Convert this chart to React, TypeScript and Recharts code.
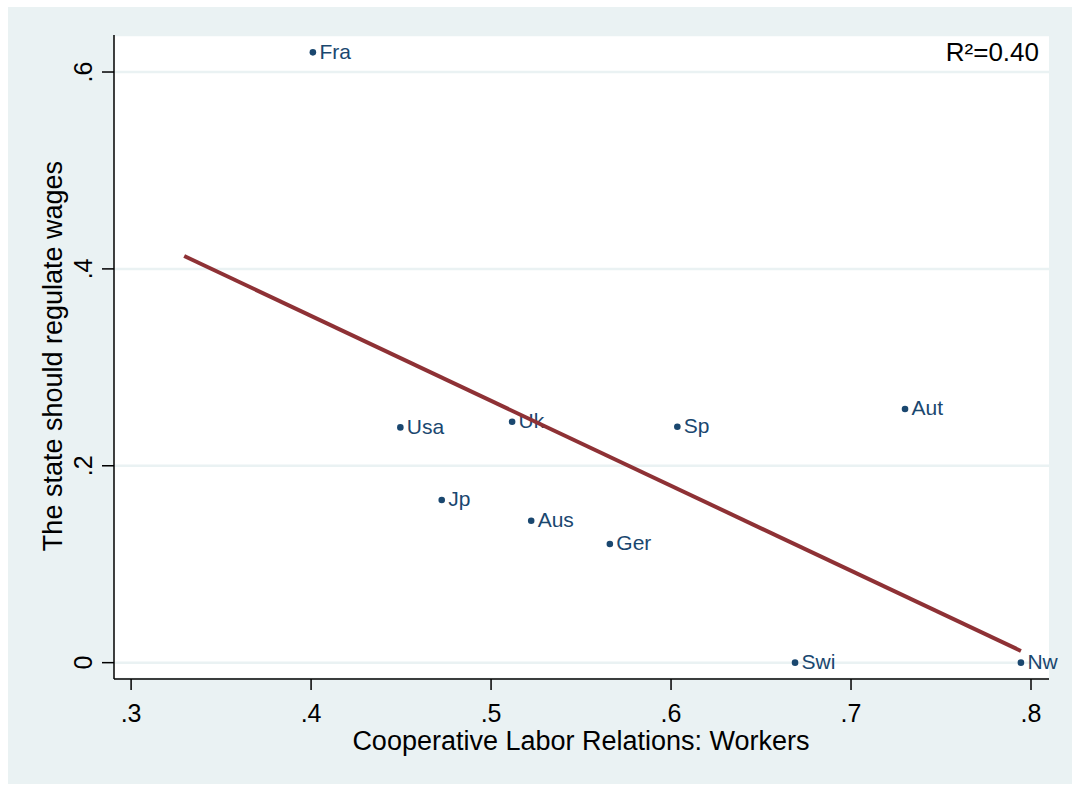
import {
  ScatterChart, Scatter, XAxis, YAxis, CartesianGrid,
} from 'recharts'

const COUNTRIES = ['Fra', 'Usa', 'Uk', 'Sp', 'Aut', 'Jp', 'Aus', 'Ger', 'Swi', 'Nw']
const LABOR = [0.401, 0.4496, 0.5117, 0.6035, 0.730, 0.4726, 0.5223, 0.566, 0.6689, 0.7944]
const WAGES = [0.620, 0.239, 0.2448, 0.2397, 0.2577, 0.1653, 0.1442, 0.1206, 0, 0]

// fitted line end points
const FIT_X = [0.3295, 0.7944]
const FIT_Y = [0.4131, 0.0119]

const X_TICKS = [0.3, 0.4, 0.5, 0.6, 0.7, 0.8]
const Y_TICKS = [0, 0.2, 0.4, 0.6]

const BG = '#eaf2f3'
const NAVY = '#1a476f'
const MAROON = '#8e3135'
const FONT = '"Liberation Sans", Arial, sans-serif'

const fmt = (v: number) => (v === 0 ? '0' : v.toFixed(1).replace(/^0/, ''))

const W = 1064
const H = 777

function PointShape(props: any) {
  const { cx, cy, payload } = props
  return (
    <g>
      <circle cx={cx} cy={cy} r={3.3} fill={NAVY} />
      <text x={cx + 6.5} y={cy + 6.5} fill={NAVY} fontSize={21} fontFamily={FONT}>
        {payload.name}
      </text>
    </g>
  )
}

function YTick(props: any) {
  const { x, y, payload } = props
  const tx = x - 10
  return (
    <text x={tx} y={y} transform={`rotate(-90, ${tx}, ${y})`} textAnchor="middle"
      fontSize={25} fontFamily={FONT} fill="#000">
      {fmt(payload.value)}
    </text>
  )
}

export default function App() {
  const points = COUNTRIES.map((name, i) => ({ name, x: LABOR[i], y: WAGES[i] }))
  const fit = FIT_X.map((x, i) => ({ x, y: FIT_Y[i] }))

  return (
    <div style={{ position: 'absolute', left: 8, top: 7, width: W, height: H, background: BG, fontFamily: FONT }}>
      <ScatterChart width={W} height={H} margin={{ top: 28, right: 23, left: 0, bottom: 0 }}>
        <CartesianGrid vertical={false} fill="#fff" stroke={BG} strokeWidth={2.5} />
        <XAxis
          type="number"
          dataKey="x"
          domain={[0.2905, 0.81]}
          ticks={X_TICKS}
          tickFormatter={fmt}
          height={105}
          tickSize={11}
          tickMargin={14}
          axisLine={{ stroke: '#000', strokeWidth: 1.5 }}
          tickLine={{ stroke: '#000', strokeWidth: 1.5 }}
          tick={{ fontSize: 25, fill: '#000', fontFamily: FONT }}
        />
        <YAxis
          type="number"
          dataKey="y"
          domain={[-0.0166, 0.6376]}
          ticks={Y_TICKS}
          width={106}
          tickSize={12}
          tickMargin={0}
          axisLine={{ stroke: '#000', strokeWidth: 1.5 }}
          tickLine={{ stroke: '#000', strokeWidth: 1.5 }}
          tick={<YTick />}
        />
        <Scatter data={points} shape={<PointShape />} isAnimationActive={false} />
        <Scatter
          data={fit}
          line={{ stroke: MAROON, strokeWidth: 4 }}
          shape={() => <g />}
          isAnimationActive={false}
        />
      </ScatterChart>
      <svg width={W} height={H} style={{ position: 'absolute', left: 0, top: 0, pointerEvents: 'none' }}>
        <text x={1031} y={54} textAnchor="end" fontSize={26} fontFamily={FONT} fill="#000">R²=0.40</text>
        <text x={573} y={743} textAnchor="middle" fontSize={27} fontFamily={FONT} fill="#000">
          Cooperative Labor Relations: Workers
        </text>
        <text x={54} y={349} transform="rotate(-90, 54, 349)" textAnchor="middle" fontSize={27}
          fontFamily={FONT} fill="#000">
          The state should regulate wages
        </text>
      </svg>
    </div>
  )
}
